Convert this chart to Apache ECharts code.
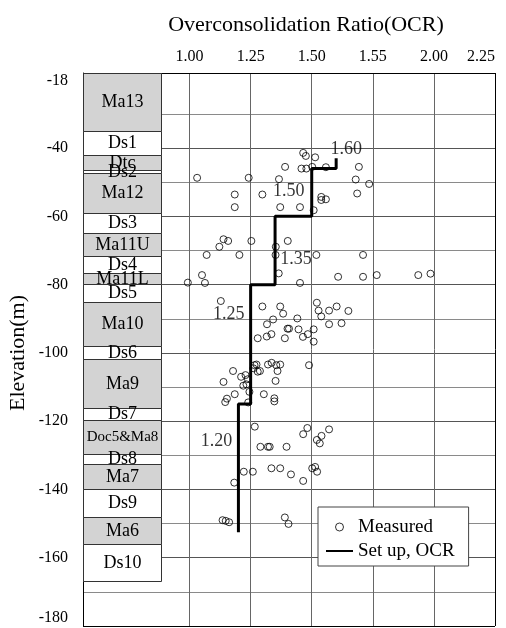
<!DOCTYPE html>
<html><head><meta charset="utf-8">
<script src="https://cdn.jsdelivr.net/npm/echarts@6/dist/echarts.min.js"></script>
<style>html,body{margin:0;padding:0;background:#fff}#c{width:506px;height:628px}</style>
</head><body><div id="c"></div>
<script>
// ---------------- data ----------------
const xTickValues = [1.00, 1.25, 1.50, 1.75, 2.00, 2.25];
const xTickLabels = ['1.00', '1.25', '1.50', '1.55', '2.00', '2.25'];
const yTickLabels = [-18, -40, -60, -80, -100, -120, -140, -160, -180];

const layerNames = ['Ma13','Ds1','Dtc','Ds2','Ma12','Ds3','Ma11U','Ds4','Ma11L','Ds5','Ma10','Ds6','Ma9','Ds7','Doc5&Ma8','Ds8','Ma7','Ds9','Ma6','Ds10'];
const layerTop    = [-18, -35, -42, -46.4, -47.4, -58.9, -64.8, -71.6, -76.7, -79.8, -85, -98, -101.9, -116.2, -119.6, -129.7, -132.6, -139.9, -148.2, -156];
const layerBottom = [-35, -42, -46.4, -47.4, -58.9, -64.8, -71.6, -76.7, -79.8, -85, -98, -101.9, -116.2, -119.6, -129.7, -132.6, -139.9, -148.2, -156, -166.8];
const layerShaded = [1,0,1,0,1,0,1,0,1,0,1,0,1,0,1,0,1,0,1,0];

const stepOCR    = [1.60, 1.50, 1.35, 1.25, 1.20];
const stepTop    = [-43, -46, -60, -80, -115];
const stepBottom = [-46, -60, -80, -115, -152.5];

const measuredOCR = [
 1.465,1.476,1.514,1.391,1.458,1.478,1.502,1.558,1.693,1.031,1.242,1.366,1.680,1.735,1.686,1.185,1.298,1.539,1.539,1.558,1.185,1.371,1.452,1.508,
 1.139,1.158,1.253,1.402,1.122,1.353,1.070,1.204,1.352,1.519,1.710,1.051,1.365,1.608,1.710,1.766,1.936,1.986,0.993,1.063,1.452,
 1.128,1.298,1.371,1.383,1.342,1.317,1.441,1.521,1.528,1.539,1.571,1.602,1.650,1.571,1.622,1.401,1.407,1.446,1.508,1.335,1.316,1.279,1.390,1.464,1.484,1.508,
 1.266,1.274,1.261,1.279,1.288,1.321,1.336,1.355,1.371,1.360,1.489,1.178,1.211,1.229,1.239,1.139,1.352,1.220,1.233,1.245,1.185,1.304,1.153,1.146,1.347,1.347,1.240,
 1.267,1.290,1.321,1.328,1.397,1.465,1.482,1.571,1.540,1.521,1.533,1.222,1.259,1.335,1.371,1.415,1.502,1.514,1.522,1.465,1.183,
 1.135,1.148,1.162,1.390,1.405];
const measuredElev = [
 -41.4,-42.3,-42.7,-45.5,-46.0,-46.0,-45.5,-45.6,-45.5,-48.7,-48.7,-49.1,-49.2,-50.5,-53.3,-53.6,-53.6,-54.3,-55.2,-55.0,-57.3,-57.3,-57.3,-58.2,
 -66.7,-67.2,-67.2,-67.2,-68.9,-68.9,-71.3,-71.3,-71.3,-71.3,-71.3,-77.2,-76.7,-77.7,-77.7,-77.2,-77.2,-76.8,-79.4,-79.5,-79.5,
 -84.8,-86.4,-86.4,-88.5,-90.2,-91.6,-89.9,-85.3,-87.6,-89.3,-87.6,-86.4,-87.7,-91.6,-91.3,-92.9,-92.9,-93.1,-93.1,-94.5,-95.2,-95.7,-95.7,-95.3,-94.5,-96.7,
 -103.6,-103.4,-104.5,-105.5,-105.3,-103.4,-102.9,-103.6,-103.4,-105.3,-103.6,-105.3,-107.0,-106.5,-107.7,-108.5,-108.2,-109.6,-109.2,-111.4,-112.1,-112.1,-113.4,-114.4,-113.3,-114.2,-114.5,
 -121.6,-127.5,-127.5,-127.5,-127.5,-123.8,-122.0,-122.4,-124.3,-125.5,-126.5,-134.8,-134.8,-133.8,-133.8,-135.6,-133.8,-133.4,-134.8,-137.5,-138.0,
 -149.0,-149.2,-149.6,-148.2,-150.1];

// ---------------- styling ----------------
const FONT = '"Liberation Serif", "Times New Roman", serif';
const stepLabelOffsets = [[10,-14],[-23,-1],[21,9],[-22,-30],[-22,-27]];

// y split lines: ticks -180..-20 step 10, then -18
const yLineColors = [];
for (let i = 0; i < 18; i++) {
  if (i === 0 || i === 17) yLineColors.push('#000');
  else if (i === 16) yLineColors.push('rgba(0,0,0,0)');
  else yLineColors.push(i % 2 === 0 ? '#555' : '#8a8a8a');
}
// x split lines: ticks 0.875..2.25 step 0.125
const xLineColors = [];
for (let i = 0; i < 12; i++) {
  if (i === 11) xLineColors.push('#000');
  else xLineColors.push(i % 2 === 1 ? '#666' : 'rgba(0,0,0,0)');
}

const measuredData = measuredOCR.map((v, i) => [v, measuredElev[i]]);
const stepLine = [];
stepOCR.forEach((v, i) => { stepLine.push([v, stepTop[i]]); stepLine.push([v, stepBottom[i]]); });
const stepLabelData = stepOCR.map((v, i) => ({
  value: [v, (stepTop[i] + stepBottom[i]) / 2],
  label: { offset: stepLabelOffsets[i] }
}));
const layerData = layerNames.map((n, i) => [i, layerTop[i], layerBottom[i]]);

const yAxisCommon = {
  type: 'value', min: -180, max: -18, interval: 10,
  axisTick: { show: false },
  splitLine: { show: true, lineStyle: { color: yLineColors, width: 1 } }
};

const chart = echarts.init(document.getElementById('c'), null, { renderer: 'canvas' });
chart.setOption({
  animation: false,
  backgroundColor: '#fff',
  grid: [
    { left: 83, top: 73, width: 78, height: 553, containLabel: false, outerBoundsMode: 'none' },
    { left: 159, top: 73, right: 11, height: 553, containLabel: false, outerBoundsMode: 'none' }
  ],
  xAxis: [
    { gridIndex: 0, type: 'value', min: 0, max: 1, show: false },
    { gridIndex: 1, type: 'value', position: 'top', min: 0.875, max: 2.25, interval: 0.125,
      axisLine: { show: true, lineStyle: { color: '#000', width: 1 } },
      axisTick: { show: false },
      axisLabel: { show: true, margin: 8, fontFamily: FONT, fontSize: 16, color: '#000',
        alignMaxLabel: 'right',
        formatter: function (v) {
          for (let k = 0; k < xTickValues.length; k++) if (Math.abs(v - xTickValues[k]) < 1e-6) return xTickLabels[k];
          return '';
        } },
      splitLine: { show: true, lineStyle: { color: xLineColors, width: 1 } }
    }
  ],
  yAxis: [
    Object.assign({}, yAxisCommon, { gridIndex: 0,
      axisLine: { show: true, lineStyle: { color: '#000', width: 1 } },
      axisLabel: { show: true, margin: 15, fontFamily: FONT, fontSize: 16, color: '#000',
        verticalAlignMinLabel: 'bottom', verticalAlignMaxLabel: 'top',
        formatter: function (v) { return yTickLabels.indexOf(Math.round(v * 10) / 10) >= 0 ? String(v) : ''; } } }),
    Object.assign({}, yAxisCommon, { gridIndex: 1,
      axisLine: { show: false }, axisLabel: { show: false } })
  ],
  legend: {
    data: [
      { name: 'Measured', itemStyle: { color: 'rgba(255,255,255,0)', borderColor: '#000', borderWidth: 1 } },
      { name: 'Set up, OCR', lineStyle: { width: 2, color: '#000' },
        itemStyle: { color: 'rgba(0,0,0,0)', borderColor: 'rgba(0,0,0,0)', borderWidth: 0, opacity: 0 } }
    ],
    orient: 'vertical', left: 318, top: 507,
    itemWidth: 27, itemHeight: 8, itemGap: 4,
    padding: [10, 14, 5, 7],
    backgroundColor: '#fff', borderColor: '#444', borderWidth: 1, borderRadius: 0,
    textStyle: { fontFamily: FONT, fontSize: 19, color: '#000', lineHeight: 20 },
    selectedMode: false
  },
  graphic: [
    { type: 'text', x: 306, y: 25, z: 10,
      style: { text: 'Overconsolidation Ratio(OCR)', font: '22px ' + FONT, fill: '#000', textAlign: 'center', textVerticalAlign: 'middle' } },
    { type: 'text', x: 18, y: 353, rotation: Math.PI / 2, z: 10,
      style: { text: 'Elevation(m)', font: '22px ' + FONT, fill: '#000', textAlign: 'center', textVerticalAlign: 'middle' } }
  ],
  series: [
    { type: 'custom', name: 'column', xAxisIndex: 0, yAxisIndex: 0, data: layerData, silent: true,
      renderItem: function (params, api) {
        const i = params.dataIndex;
        const p1 = api.coord([0, api.value(1)]);
        const p2 = api.coord([1, api.value(2)]);
        const x1 = Math.round(p1[0]) + 0.5, x2 = Math.round(p2[0]) + 0.5;
        const y1 = Math.round(p1[1]) + 0.5, y2 = Math.round(p2[1]) + 0.5;
        const name = layerNames[i];
        const fs = name.length > 6 ? 15 : 18;
        return { type: 'group', children: [
          { type: 'rect', z2: 0, shape: { x: x1, y: y1, width: x2 - x1, height: y2 - y1 },
            style: { fill: layerShaded[i] ? '#d3d3d3' : '#fff', stroke: '#333', lineWidth: 1 } },
          { type: 'text', z2: 10, x: (x1 + x2) / 2, y: (y1 + y2) / 2,
            style: { text: name, font: fs + 'px ' + FONT, fill: '#000', textAlign: 'center', textVerticalAlign: 'middle' } }
        ] };
      } },
    { type: 'scatter', name: 'Measured', xAxisIndex: 1, yAxisIndex: 1, data: measuredData,
      symbol: 'circle', symbolSize: 7,
      itemStyle: { color: 'rgba(255,255,255,0)', borderColor: '#000', borderWidth: 1 }, z: 3 },
    { type: 'line', name: 'Set up, OCR', xAxisIndex: 1, yAxisIndex: 1, data: stepLine,
      symbol: 'none', showSymbol: false, lineStyle: { color: '#000', width: 3 }, itemStyle: { color: '#000' }, z: 4 },
    { type: 'scatter', name: 'stepLabels', xAxisIndex: 1, yAxisIndex: 1, data: stepLabelData,
      symbol: 'circle', symbolSize: 1, itemStyle: { color: 'rgba(0,0,0,0)' }, z: 5, silent: true,
      label: { show: true, position: 'inside', fontFamily: FONT, fontSize: 18, color: '#000',
        formatter: function (p) { return p.value[0].toFixed(2); } } }
  ]
});
</script>
</body></html>
